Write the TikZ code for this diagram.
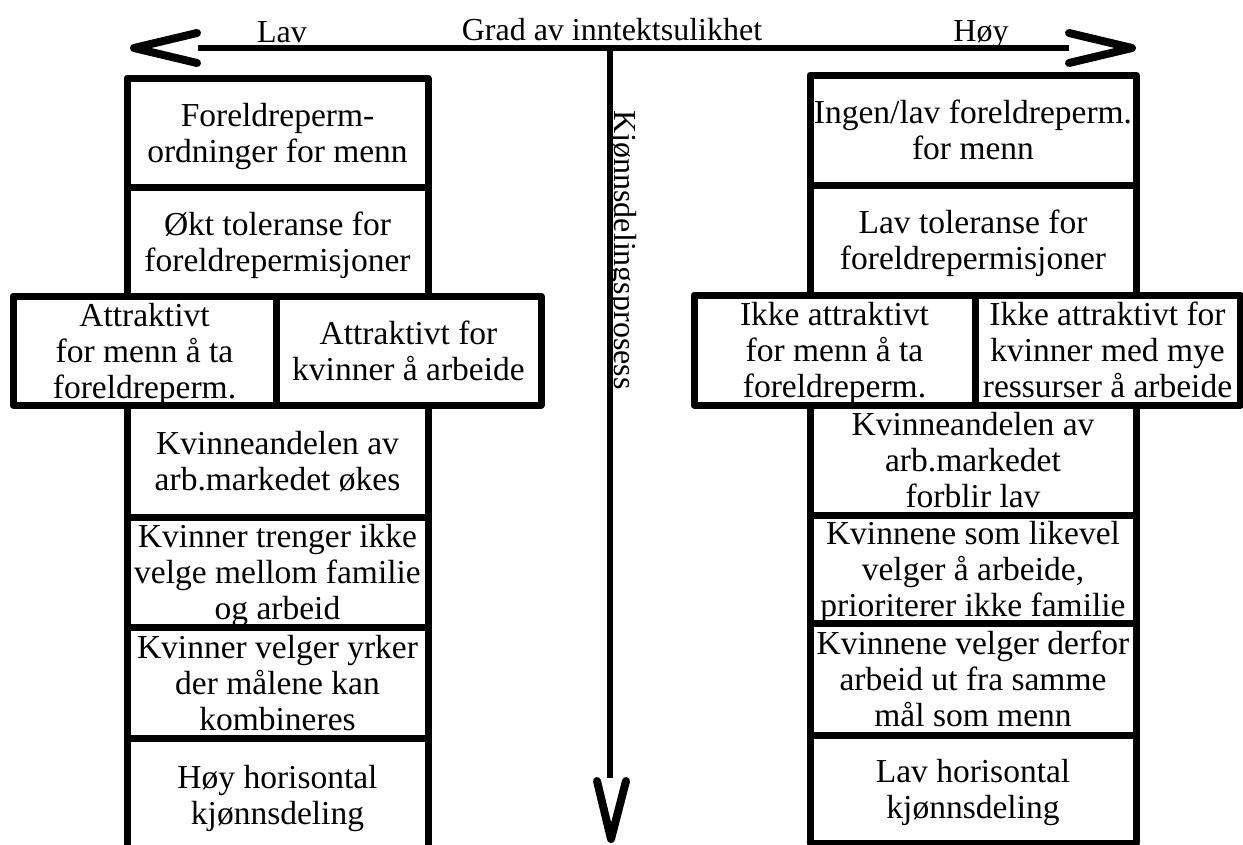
\documentclass[tikz,border=0pt]{standalone}
\usepackage{fontspec}
\setmainfont{Liberation Serif}
\begin{document}
\begin{tikzpicture}[x=1pt,y=-1pt,
  box/.style={draw, line width=7pt, line join=round, inner sep=0pt, align=center,
              text depth=0pt, font=\fontsize{33.5}{36}\selectfont},
  lbl/.style={inner sep=0pt, font=\fontsize{32}{35}\selectfont},
  axisline/.style={line width=6.5pt},
  tiphead/.style={line width=8pt, line cap=round, line join=round}]
\useasboundingbox (0,0) rectangle (1243,844);
\clip (0,0) rectangle (1243,844);

% axes
\coordinate (hl) at (198,48);
\coordinate (hr) at (1069,48);
\coordinate (vt) at (610,48);
\coordinate (vb) at (610,778);
\draw[axisline] (hl) -- (hr);
\draw[axisline] (vt) -- (vb);
\coordinate (la1) at (197,33); \coordinate (la0) at (134,48); \coordinate (la2) at (197,63);
\coordinate (ra1) at (1069,33); \coordinate (ra0) at (1132,48); \coordinate (ra2) at (1069,63);
\coordinate (da1) at (597,781); \coordinate (da0) at (611,839); \coordinate (da2) at (626,781);
\draw[tiphead] (la1) -- (la0) -- (la2);
\draw[tiphead] (ra1) -- (ra0) -- (ra2);
\draw[tiphead] (da1) -- (da0) -- (da2);

\node[lbl, anchor=base] (lav) at (282,42) {Lav};
\node[lbl, anchor=base] (grad) at (612,40) {Grad av inntektsulikhet};
\node[lbl, anchor=base] (hoy) at (981,41) {Høy};
\node[lbl, rotate=-90] (kjonn) at (622,250) {Kjønnsdelingsprosess};

% left column
\node[box, minimum width=301pt, minimum height=109pt] (L1) at (277.5,132.5) {Foreldreperm-\\ordninger for menn};
\node[box, minimum width=301pt, minimum height=109pt] (L2) at (277.5,241.5) {Økt toleranse for\\foreldrepermisjoner};
\node[box, minimum width=301pt, minimum height=112pt] (L4) at (277.5,461) {Kvinneandelen av\\arb.markedet økes};
\node[box, minimum width=301pt, minimum height=110pt] (L5) at (277.5,572) {Kvinner trenger ikke\\velge mellom familie\\og arbeid};
\node[box, minimum width=301pt, minimum height=111pt] (L6) at (277.5,682.5) {Kvinner velger yrker\\der målene kan\\kombineres};
\node[box, minimum width=301pt, minimum height=114pt] (L7) at (277.5,795) {Høy horisontal\\kjønnsdeling};
\node[box, minimum width=263pt, minimum height=109pt] (La) at (144.5,350.5) {Attraktivt\\for menn å ta\\foreldreperm.};
\node[box, minimum width=265pt, minimum height=109pt] (Lb) at (408.5,350.5) {Attraktivt for\\kvinner å arbeide};

% right column
\node[box, minimum width=326pt, minimum height=110pt] (R1) at (973,130) {Ingen/lav foreldreperm.\\for menn};
\node[box, minimum width=326pt, minimum height=110pt] (R2) at (973,240) {Lav toleranse for\\foreldrepermisjoner};
\node[box, minimum width=326pt, minimum height=110pt] (R4) at (973,460) {Kvinneandelen av\\arb.markedet\\forblir lav};
\node[box, minimum width=326pt, minimum height=108pt] (R5) at (973,569) {Kvinnene som likevel\\velger å arbeide,\\prioriterer ikke familie};
\node[box, minimum width=326pt, minimum height=112pt] (R6) at (973,679) {Kvinnene velger derfor\\arbeid ut fra samme\\mål som menn};
\node[box, minimum width=326pt, minimum height=108pt] (R7) at (973,789) {Lav horisontal\\kjønnsdeling};
\node[box, minimum width=281pt, minimum height=110pt] (Ra) at (834.5,350) {Ikke attraktivt\\for menn å ta\\foreldreperm.};
\node[box, minimum width=265pt, minimum height=110pt] (Rb) at (1107.5,350) {Ikke attraktivt for\\kvinner med mye\\ressurser å arbeide};
\end{tikzpicture}
\end{document}
